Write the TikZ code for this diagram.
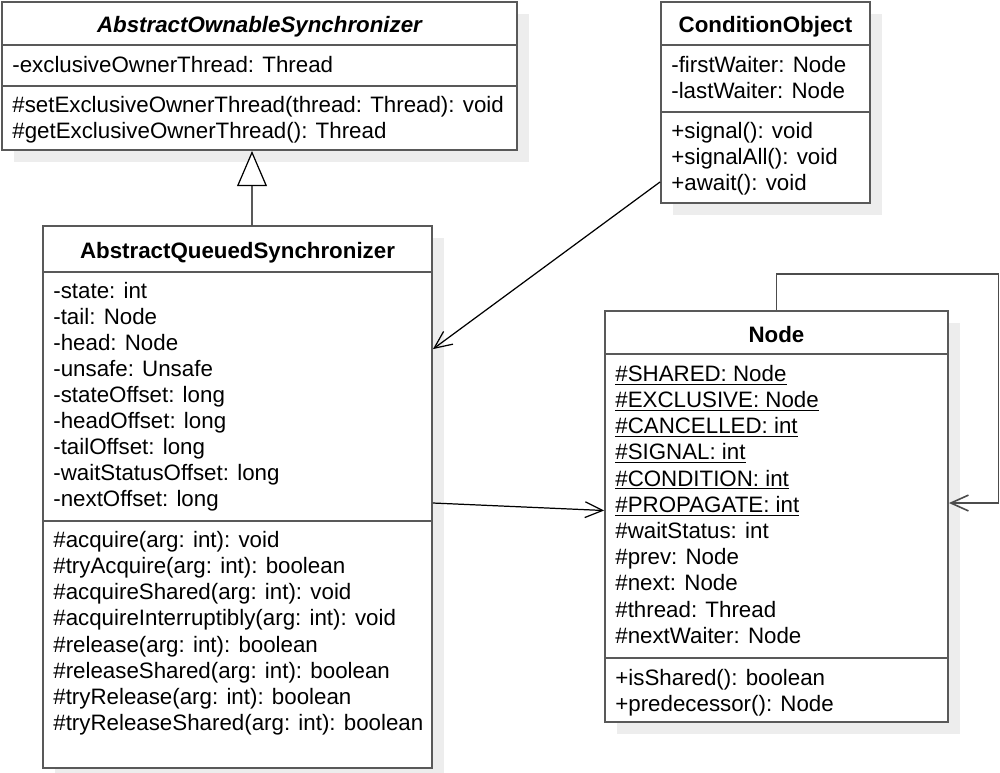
\documentclass[tikz,border=0pt]{standalone}
\usepackage{fontspec}
\setmainfont{Liberation Sans}
\usetikzlibrary{arrows.meta,calc,shadows}
\tikzset{cls/.style={
  draw=black!65,
  line width=1.1pt,
  fill=white,
  inner sep=0pt,
  drop shadow={shadow xshift=0.24cm,shadow yshift=-0.24cm,fill=black!7,opacity=1}
  }
}
\tikzset{sep/.style={
  draw=black!65,
  line width=1.1pt
  }
}
\tikzset{txt/.style={
  anchor=base west,
  inner sep=0pt,
  font=\fontsize{12.7}{15}\selectfont
  }
}
\tikzset{ttl/.style={
  anchor=base,
  inner sep=0pt,
  font=\fontsize{12.7}{15}\selectfont\bfseries
  }
}
\tikzset{dep/.style={
  black,
  line width=0.7pt,
  -{Straight Barb[length=10pt,width=9pt]}
  }
}
\tikzset{inherit/.style={
  black,
  line width=0.7pt,
  -{Triangle[length=20pt,width=17pt,fill=white]}
  }
}

\begin{document}
\begin{tikzpicture}[x=0.02cm,y=-0.02cm]
    \useasboundingbox (0,0) rectangle (1000,772);

    % AbstractOwnableSynchronizer
    \node[cls,minimum width=10.3cm,minimum height=2.96cm] (aos) at (259.5,76) {};
    \node[ttl,font=\fontsize{12.7}{15}\selectfont\bfseries\itshape] (aosT) at (259.5,32) {AbstractOwnableSynchronizer};
    \draw[sep] (aos.west |- 0,45) -- (aos.east |- 0,45);
    \draw[sep] (aos.west |- 0,86) -- (aos.east |- 0,86);
    \node[txt] (aosA1) at (12,72) {-exclusiveOwnerThread: Thread};
    \foreach \t [count=\n] in {\#setExclusiveOwnerThread(thread: Thread): void,\#getExclusiveOwnerThread(): Thread}
        \node[txt] (aosM\n) at (12,86+26*\n) {\t};

    % ConditionObject
    \node[cls,minimum width=4.18cm,minimum height=4.02cm] (cond) at (765.5,102.5) {};
    \node[ttl] (condT) at (765.5,32) {ConditionObject};
    \draw[sep] (cond.west |- 0,45) -- (cond.east |- 0,45);
    \draw[sep] (cond.west |- 0,112) -- (cond.east |- 0,112);
    \foreach \t [count=\n] in {-firstWaiter: Node,-lastWaiter: Node}
        \node[txt] (condA\n) at (671,46+26*\n) {\t};
    \foreach \t [count=\n] in {+signal(): void,+signalAll(): void,+await(): void}
        \node[txt] (condM\n) at (671,112+26*\n) {\t};

    % AbstractQueuedSynchronizer
    \node[cls,minimum width=7.78cm,minimum height=10.84cm] (aqs) at (237.5,497) {};
    \node[ttl] (aqsT) at (237.5,258) {AbstractQueuedSynchronizer};
    \draw[sep] (aqs.west |- 0,272) -- (aqs.east |- 0,272);
    \draw[sep] (aqs.west |- 0,521) -- (aqs.east |- 0,521);
    \foreach \t [count=\n] in {-state: int,-tail: Node,-head: Node,-unsafe: Unsafe,-stateOffset: long,-headOffset: long,-tailOffset: long,-waitStatusOffset: long,-nextOffset: long}
        \node[txt] (aqsA\n) at (53,272+26*\n) {\t};
    \foreach \t [count=\n] in {\#acquire(arg: int): void,\#tryAcquire(arg: int): boolean,\#acquireShared(arg: int): void,\#acquireInterruptibly(arg: int): void,\#release(arg: int): boolean,\#releaseShared(arg: int): boolean,\#tryRelease(arg: int): boolean,\#tryReleaseShared(arg: int): boolean}
        \node[txt] (aqsM\n) at (53,521+26.2*\n) {\t};

    % Node
    \node[cls,minimum width=6.86cm,minimum height=8.22cm] (nodecls) at (776.5,516.5) {};
    \node[ttl] (nodeT) at (776.5,342) {Node};
    \draw[sep] (nodecls.west |- 0,354) -- (nodecls.east |- 0,354);
    \draw[sep] (nodecls.west |- 0,658) -- (nodecls.east |- 0,658);
    \foreach \t [count=\n] in {\underline{\#SHARED: Node},\underline{\#EXCLUSIVE: Node},\underline{\#CANCELLED: int},\underline{\#SIGNAL: int},\underline{\#CONDITION: int},\underline{\#PROPAGATE: int},\#waitStatus: int,\#prev: Node,\#next: Node,\#thread: Thread,\#nextWaiter: Node}
        \node[txt] (nodeA\n) at (615,355+26.2*\n) {\t};
    \foreach \t [count=\n] in {+isShared(): boolean,+predecessor(): Node}
        \node[txt] (nodeM\n) at (615,659+26*\n) {\t};

    % connectors
    \draw[inherit] ([xshift=0.29cm]aqs.north) -- ([xshift=-0.15cm]aos.south);
    \draw[dep] ($(cond.south west)+(0,-22)$) -- ($(aqs.north east)+(0,124)$);
    \draw[dep] ($(aqs.east)+(0,6)$) -- ($(nodecls.west)+(0,-6)$);
    \draw[dep,black!70,line width=0.9pt] (nodecls.north) -- ++(0,-36) -- ++(222,0) |- ($(nodecls.east)+(0,-13.5)$);
\end{tikzpicture}
\end{document}
